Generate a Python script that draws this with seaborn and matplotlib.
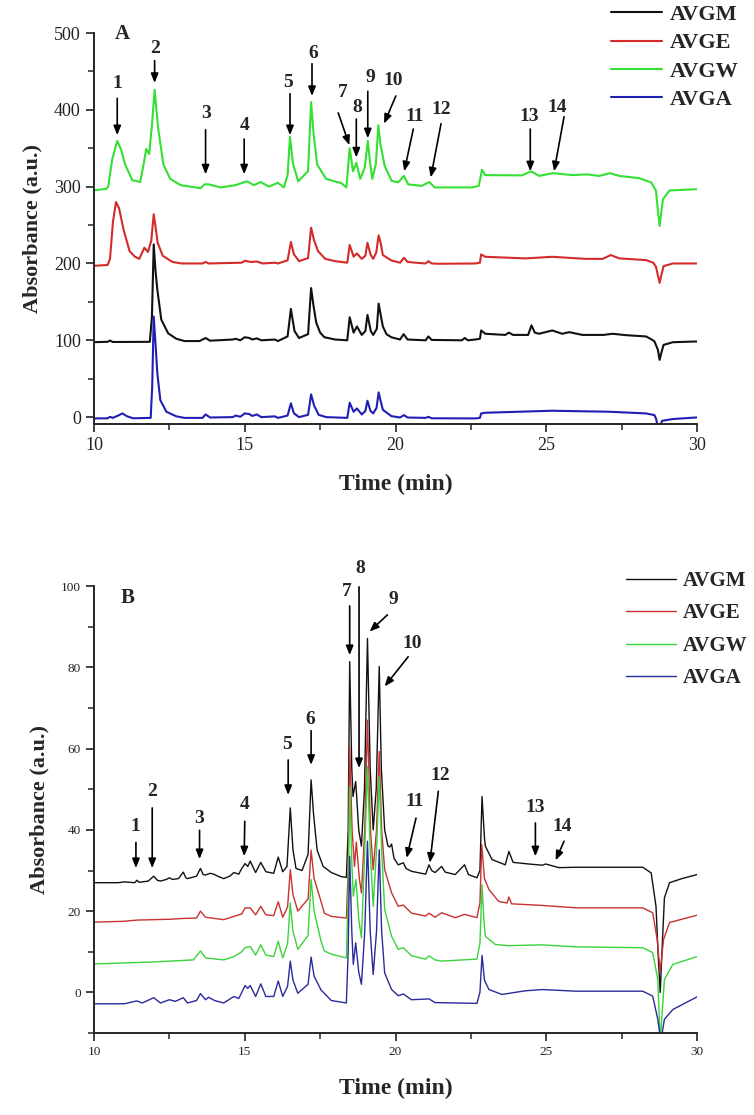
import seaborn as sns
import matplotlib.pyplot as plt
from matplotlib.ticker import MultipleLocator
import pandas as pd

# ---- panel A traces (time in min, absorbance) ----
a_avgm_t = [10.0, 10.45, 10.53, 10.62, 11.85, 11.92, 11.98, 12.04, 12.1, 12.23, 12.46, 12.73, 13.0, 13.5, 13.7, 13.85,
            14.6, 14.7, 14.85, 15.0, 15.15, 15.25, 15.4, 15.55, 16.0, 16.1, 16.42, 16.53, 16.65, 16.8, 17.1, 17.2,
            17.28, 17.37, 17.5, 17.64, 18.0, 18.4, 18.48, 18.61, 18.72, 18.88, 19.0, 19.07, 19.18, 19.26, 19.38, 19.44,
            19.5, 19.58, 19.7, 19.86, 20.15, 20.27, 20.4, 21.0, 21.09, 21.2, 22.2, 22.3, 22.4, 22.64, 22.8, 22.84,
            22.98, 23.64, 23.76, 23.9, 24.4, 24.51, 24.62, 24.76, 25.2, 25.53, 25.76, 26.2, 26.9, 27.2, 27.64, 28.31,
            28.5, 28.59, 28.7, 28.76, 28.82, 28.89, 29.2, 30.0]
a_avgm_v = [97.6, 98, 99.7, 97.8, 98, 130, 224.8, 190, 166, 127, 109, 102, 99, 99, 103, 99.5,
            101, 102, 100, 104, 103, 101, 102.5, 100, 101, 99, 105, 140.8, 112, 103, 108, 168,
            145, 123, 110, 104, 101, 100, 130, 110, 118, 107, 112, 133, 112, 107, 115, 147.7,
            135, 118, 108, 104, 101, 108, 101, 100, 105, 100.5, 100, 103, 100, 101, 102, 112.8,
            108.5, 107, 110, 107, 107, 119.4, 110, 108.5, 112.8, 108.5, 110.6, 107, 107, 108.5, 106.7, 105,
            101, 98.5, 88, 74.5, 84, 94, 97.5, 98.5]

a_avge_t = [10.0, 10.45, 10.53, 10.63, 10.73, 10.83, 10.98, 11.18, 11.35, 11.5, 11.67, 11.79, 11.9, 11.98, 12.05, 12.11,
            12.28, 12.6, 12.9, 13.6, 13.7, 13.8, 14.9, 15.0, 15.2, 15.4, 15.6, 16.0, 16.1, 16.42, 16.53, 16.63,
            16.8, 17.1, 17.2, 17.3, 17.43, 17.67, 18.0, 18.4, 18.48, 18.61, 18.72, 18.88, 19.0, 19.07, 19.17, 19.26,
            19.36, 19.44, 19.5, 19.58, 19.86, 20.15, 20.28, 20.4, 20.67, 21.0, 21.09, 21.2, 21.42, 22.64, 22.8, 22.84,
            22.98, 24.31, 25.2, 26.3, 26.87, 27.14, 27.42, 28.31, 28.55, 28.64, 28.7, 28.76, 28.82, 28.89, 29.2, 30.0]
a_avge_v = [197, 198, 206, 255, 280, 272, 244, 216, 209, 206, 220.5, 215, 230, 264, 245, 227,
            210, 202, 200, 200, 202, 200, 201, 203.5, 202, 202.5, 200, 201, 200, 204, 228, 212,
            203, 207, 246.6, 230, 216, 206, 203, 201, 224, 209, 213, 206, 210, 227, 212, 206,
            214, 236.6, 228, 211, 204, 201, 207.4, 202, 201, 200, 203, 200, 199.6, 200, 201, 211.8,
            208.7, 206.6, 208.7, 206, 206, 211, 206.6, 204.4, 201, 195.7, 185, 174.7, 185, 196.5, 200, 200]

a_avgw_t = [10.0, 10.4, 10.47, 10.6, 10.77, 10.9, 11.03, 11.27, 11.53, 11.65, 11.73, 11.83, 11.92, 12.01, 12.07, 12.13,
            12.3, 12.53, 12.87, 13.53, 13.67, 13.8, 14.2, 14.7, 15.07, 15.3, 15.53, 15.8, 16.1, 16.3, 16.42, 16.5,
            16.6, 16.77, 17.1, 17.2, 17.28, 17.4, 17.7, 18.2, 18.37, 18.48, 18.59, 18.7, 18.83, 18.98, 19.08, 19.16,
            19.23, 19.35, 19.43, 19.5, 19.64, 19.87, 20.09, 20.28, 20.42, 20.87, 21.12, 21.3, 22.53, 22.76, 22.87, 22.98,
            24.2, 24.5, 24.76, 25.23, 25.87, 26.34, 26.76, 27.11, 27.42, 28.09, 28.48, 28.64, 28.7, 28.76, 28.82, 28.87,
            29.09, 30.0]
a_avgw_v = [295.4, 297, 300, 335, 359.5, 348, 329, 308.5, 306, 330, 349, 342.5, 380, 426, 400, 375,
            329, 310, 302, 298, 303, 303, 299, 302, 307, 302, 306, 300, 305, 299, 315, 364.7,
            330, 307, 320, 410, 370, 329, 310, 304.6, 299, 350, 320, 331, 310, 325, 359.5, 330,
            310, 330, 380, 355, 327, 307.6, 305.6, 314, 303, 301, 306, 299, 299, 301, 322, 315,
            314.7, 320, 314, 317.6, 315, 316, 314, 317.6, 314, 311, 305.5, 294.6, 270, 248.8, 268, 283.7,
            295, 296.7]

a_avga_t = [10.0, 10.45, 10.53, 10.62, 10.8, 10.94, 11.1, 11.3, 11.88, 11.93, 11.98, 12.04, 12.1, 12.2, 12.4, 12.73,
            13.0, 13.6, 13.7, 13.85, 14.6, 14.7, 14.85, 15.0, 15.15, 15.25, 15.4, 15.55, 16.0, 16.1, 16.42, 16.53,
            16.63, 16.8, 17.1, 17.2, 17.3, 17.45, 17.7, 18.4, 18.48, 18.61, 18.72, 18.88, 19.0, 19.07, 19.17, 19.26,
            19.37, 19.44, 19.5, 19.58, 19.86, 20.15, 20.28, 20.4, 21.0, 21.09, 21.2, 22.64, 22.8, 22.84, 22.98, 25.2,
            27.1, 28.31, 28.59, 28.65, 28.7, 28.76, 28.84, 29.2, 30.0]
a_avga_v = [-1.7, -1.5, 0.4, -1, 2, 4.8, 1, -1.5, -1, 40, 131, 95, 57, 22, 7, 1,
            -1, -1, 3.5, -0.5, 0, 2, 0.5, 4.8, 4, 1.5, 3.5, 0, 1, -1, 2, 18,
            5, 0, 3, 29.6, 15, 3, 0, -1, 18.7, 7, 11.3, 3.5, 8, 21.3, 8, 4.8,
            12, 32.2, 22, 9.6, 1.3, -0.5, 2.6, -0.5, -1, 0.4, -1.5, -1.7, -1, 4.8, 5.7, 8.3,
            7, 4.8, 2.6, -3, -14, -14, -4.8, -2.5, -0.4]

# ---- panel B traces ----
b_avgm_t = [10.0, 10.8, 11.0, 11.35, 11.42, 11.5, 11.8, 11.98, 12.1, 12.2, 12.4, 12.5, 12.6, 12.8, 12.96, 13.05,
            13.1, 13.4, 13.53, 13.62, 13.7, 13.85, 13.97, 14.1, 14.3, 14.5, 14.64, 14.8, 14.9, 15.01, 15.1, 15.18,
            15.36, 15.53, 15.7, 15.96, 16.11, 16.26, 16.4, 16.51, 16.6, 16.7, 16.9, 17.1, 17.2, 17.28, 17.4, 17.6,
            17.87, 18.2, 18.37, 18.43, 18.48, 18.55, 18.59, 18.68, 18.78, 18.87, 18.97, 19.07, 19.16, 19.26, 19.36, 19.46,
            19.53, 19.64, 19.75, 19.81, 19.87, 19.95, 20.09, 20.26, 20.35, 20.53, 21.0, 21.11, 21.2, 21.31, 21.53, 21.65,
            21.98, 22.29, 22.42, 22.7, 22.8, 22.87, 22.95, 22.98, 23.2, 23.64, 23.76, 23.9, 24.42, 24.87, 24.98, 25.42,
            26.0, 28.2, 28.48, 28.64, 28.72, 28.78, 28.85, 28.92, 29.09, 29.5, 30.0]
b_avgm_v = [27, 27, 27.2, 27, 27.6, 27.1, 27.4, 28.6, 27.6, 27.4, 27.8, 28.2, 27.8, 28, 29.6, 28.2,
            28, 28.6, 30.5, 29, 28.9, 29.3, 29.1, 28.6, 28, 28.6, 29.5, 29.1, 30.5, 31.7, 31, 32.3,
            29.5, 32, 29.7, 29.3, 33.3, 29.7, 31, 45.4, 35, 30.5, 30, 34, 52.3, 44, 35, 31,
            29.5, 28.5, 28.3, 40, 81.4, 55, 48.2, 51.9, 40, 36, 50, 87.1, 55, 40, 50, 80.2,
            55, 40, 36, 35.8, 36.5, 33, 31.4, 31.9, 30.5, 29.8, 29.1, 31.4, 30, 29.5, 31, 29.6,
            29, 31.4, 29, 28.2, 30, 48.2, 38, 36, 32.7, 31.4, 34.7, 32, 31.6, 31.3, 31.6, 30.7,
            30.8, 30.8, 29.4, 21.2, 8, 0, 12, 23.3, 27, 28, 29]

b_avge_t = [10.0, 11.0, 11.42, 11.98, 12.5, 12.96, 13.4, 13.53, 13.7, 14.3, 14.64, 14.9, 15.01, 15.18, 15.36, 15.53,
            15.7, 15.96, 16.11, 16.26, 16.42, 16.51, 16.6, 16.76, 17.1, 17.2, 17.3, 17.53, 17.64, 17.87, 18.37, 18.43,
            18.48, 18.56, 18.64, 18.7, 18.8, 18.87, 18.98, 19.07, 19.17, 19.26, 19.37, 19.46, 19.54, 19.64, 19.87, 20.09,
            20.26, 20.53, 21.0, 21.11, 21.31, 21.53, 21.98, 22.29, 22.7, 22.8, 22.86, 22.95, 23.1, 23.42, 23.7, 23.76,
            23.85, 24.87, 26.0, 28.2, 28.53, 28.68, 28.78, 28.89, 29.09, 30.0]
b_avge_v = [17.3, 17.5, 17.8, 17.9, 18, 18.2, 18.3, 20, 18.5, 17.9, 18.7, 19.3, 20.8, 20.8, 19.1, 21.2,
            19.1, 18.9, 22.3, 18.5, 21, 30.2, 24, 20, 23, 35, 28, 22.4, 19.5, 18.7, 18.3, 30,
            60.5, 40, 31, 37, 28, 24.5, 40, 67, 40, 30.2, 40, 59.3, 40, 30.2, 24.5, 21.2,
            21.5, 19.5, 18.8, 19.5, 18.5, 19.6, 18.4, 19.2, 18.4, 22, 36.4, 28, 25.3, 22.4, 22, 23.5,
            21.8, 21.4, 20.8, 20.8, 19.6, 13, 5, 13, 17.2, 19]

b_avgw_t = [10.0, 11.98, 13.3, 13.53, 13.7, 14.3, 14.64, 14.9, 15.01, 15.18, 15.36, 15.53, 15.7, 15.96, 16.11, 16.26,
            16.42, 16.51, 16.6, 16.76, 17.1, 17.2, 17.3, 17.53, 17.64, 17.87, 18.37, 18.43, 18.48, 18.55, 18.6, 18.69,
            18.78, 18.87, 18.98, 19.07, 19.16, 19.26, 19.37, 19.46, 19.54, 19.64, 19.87, 20.09, 20.26, 20.53, 21.0, 21.11,
            21.31, 21.53, 22.7, 22.8, 22.87, 22.93, 22.98, 23.31, 23.76, 24.87, 26.0, 28.2, 28.53, 28.7, 28.78, 28.92,
            29.2, 30.0]
b_avgw_v = [7, 7.5, 8, 10.2, 8.5, 8, 8.8, 10, 11, 11.3, 9.2, 11.7, 9.2, 8.8, 12.6, 8.5,
            12, 22, 15, 10.6, 14, 27.8, 20, 12.6, 10.2, 9.4, 8.5, 25, 50.7, 32, 23.7, 27.8,
            18, 13.4, 35, 55.6, 35, 21.2, 35, 53.1, 35, 20.4, 13.8, 10.6, 11, 9, 8.2, 9,
            8, 7.7, 8.2, 12, 26.5, 18, 13.8, 11.8, 11.5, 11.7, 11.2, 11, 9.8, 3.2, -12, 3.2,
            6.9, 8.8]

b_avga_t = [10.0, 11.0, 11.42, 11.6, 11.98, 12.2, 12.5, 12.7, 12.96, 13.1, 13.4, 13.53, 13.7, 13.8, 14.0, 14.3,
            14.64, 14.8, 14.9, 15.01, 15.1, 15.18, 15.36, 15.53, 15.7, 15.96, 16.11, 16.26, 16.42, 16.51, 16.6, 16.76,
            17.1, 17.2, 17.3, 17.53, 17.87, 18.37, 18.43, 18.48, 18.55, 18.6, 18.68, 18.78, 18.87, 18.98, 19.07, 19.16,
            19.26, 19.37, 19.46, 19.54, 19.64, 19.87, 20.09, 20.26, 20.53, 21.11, 21.31, 22.7, 22.8, 22.87, 22.95, 23.1,
            23.53, 24.31, 24.87, 26.0, 28.2, 28.53, 28.7, 28.8, 28.92, 29.2, 30.0]
b_avga_v = [-2.8, -2.8, -2.1, -2.6, -1.3, -2.6, -1.8, -2.2, -1.3, -2.6, -2, -0.3, -1.8, -1.2, -2, -2.6,
            -1, -1.5, 0, 1.7, 1, 1.7, -1, 2.1, -1, -1, 2.8, -1, 1.5, 7.7, 3, -0.2,
            2, 8.7, 4, 0.6, -2, -2.6, 10, 33.5, 15, 6.9, 12.2, 5, 2, 15, 37.2, 15,
            4.4, 15, 35.1, 15, 4.8, 0.7, -0.8, -0.4, -1.8, -1.6, -2.5, -2.7, 0, 9.1, 3, 0.7,
            -0.5, 0.4, 0.7, 0.3, 0.3, -0.9, -6.6, -12, -6.6, -4.2, -1.1]

samples = ["AVGM", "AVGE", "AVGW", "AVGA"]
peak_labels = [str(i) for i in range(1, 15)]


def long_form(traces):
    rows = []
    for name, (t, v) in zip(samples, traces):
        rows.append(pd.DataFrame({"time": t, "absorbance": v, "sample": name}))
    return pd.concat(rows, ignore_index=True)


df_a = long_form([(a_avgm_t, a_avgm_v), (a_avge_t, a_avge_v), (a_avgw_t, a_avgw_v), (a_avga_t, a_avga_v)])
df_b = long_form([(b_avgm_t, b_avgm_v), (b_avge_t, b_avge_v), (b_avgw_t, b_avgw_v), (b_avga_t, b_avga_v)])

# label / arrow placement (text xy, arrow tail, arrow tip) in data units
a_text = [(10.77, 434), (12.01, 480), (13.7, 395), (15.01, 380), (16.43, 436), (17.27, 473), (18.26, 422),
          (18.72, 403), (19.17, 442), (19.92, 438), (20.62, 391), (21.53, 401), (24.42, 391), (25.37, 403)]
a_tail = [(10.77, 415), (12.01, 464), (13.7, 374), (14.98, 362), (16.5, 421), (17.23, 460), (18.1, 396),
          (18.7, 388), (19.08, 424), (20.01, 418), (20.59, 375), (21.51, 382), (24.47, 375), (25.59, 391)]
a_tip = [(10.77, 367), (12.01, 435), (13.7, 316), (14.98, 316), (16.5, 367), (17.23, 418), (18.47, 354),
         (18.7, 338), (19.08, 363), (19.62, 382), (20.29, 320), (21.17, 312), (24.47, 320), (25.26, 320)]

b_text = [(11.37, 40.9), (11.92, 49.5), (13.5, 42.9), (15.01, 46.2), (16.39, 61), (17.17, 67.2), (18.39, 98.6),
          (18.83, 104.3), (19.92, 96.6), (20.56, 85.9), (20.62, 47), (21.48, 53.3), (24.64, 45.4), (25.53, 40.9)]
b_tail = [(11.39, 36.9), (11.93, 45.4), (13.5, 39.9), (15.0, 42.1), (16.44, 57.2), (17.2, 64.4), (18.48, 95.1),
          (18.79, 99.8), (19.73, 92.9), (20.42, 82.6), (20.68, 42.9), (21.42, 49.5), (24.64, 41.7), (25.59, 37.2)]
b_tip = [(11.39, 30.6), (11.93, 30.6), (13.5, 32.8), (14.98, 33.5), (16.44, 48.6), (17.2, 56), (18.48, 83),
         (18.79, 55.2), (19.14, 88.8), (19.64, 75.3), (20.37, 33.1), (21.14, 31.9), (24.64, 33.5), (25.31, 32.5)]

sns.set_style("ticks")
plt.rcParams["font.family"] = ["Liberation Serif", "DejaVu Serif"]
plt.rcParams["axes.linewidth"] = 1.4

fig = plt.figure(figsize=(7.54, 11.15), dpi=100)
ax_a = fig.add_axes([0.1247, 0.6197, 0.7997, 0.3507])
ax_b = fig.add_axes([0.1247, 0.0735, 0.7997, 0.4009])

pal_a = {"AVGM": "#111111", "AVGE": "#d42a2a", "AVGW": "#33e033", "AVGA": "#1f1fb4"}
pal_b = {"AVGM": "#111111", "AVGE": "#c83232", "AVGW": "#3cd23c", "AVGA": "#2a2a9a"}

sns.lineplot(data=df_a, x="time", y="absorbance", hue="sample", hue_order=samples, palette=pal_a,
             estimator=None, sort=False, lw=1.5, ax=ax_a)
sns.lineplot(data=df_b, x="time", y="absorbance", hue="sample", hue_order=samples, palette=pal_b,
             estimator=None, sort=False, lw=1.0, ax=ax_b)

arrow = dict(arrowstyle="-|>,head_length=0.55,head_width=0.22", color="black", lw=1.2,
             shrinkA=0, shrinkB=0)

for ax, tx, tl, tp, ylim, ymaj, ymin, tick_fs, lab_fs, letter, letter_xy in [
        (ax_a, a_text, a_tail, a_tip, (-9, 500), 100, 50, 13, 15, "A", (10.93, 499)),
        (ax_b, b_text, b_tail, b_tip, (-10, 100), 20, 10, 9.5, 15, "B", (11.1, 97))]:
    ax.set_xlim(10, 30)
    ax.set_ylim(*ylim)
    ax.xaxis.set_major_locator(MultipleLocator(5))
    ax.xaxis.set_minor_locator(MultipleLocator(2.5))
    ax.yaxis.set_major_locator(MultipleLocator(ymaj))
    ax.yaxis.set_minor_locator(MultipleLocator(ymin))
    ax.tick_params(which="major", direction="out", length=6, width=1.2, labelsize=tick_fs, colors="#222222")
    ax.tick_params(which="minor", direction="out", length=4, width=1.1)
    sns.despine(ax=ax)
    ax.set_xlabel("Time (min)", fontsize=lab_fs + 2, fontweight="bold", labelpad=14)
    ax.set_ylabel("Absorbance (a.u.)", fontsize=lab_fs + 1, fontweight="bold", labelpad=8)
    ax.text(*letter_xy, letter, fontsize=15, fontweight="bold", ha="center", va="center")
    for lab, p, a, b in zip(peak_labels, tx, tl, tp):
        ax.text(p[0], p[1], lab, fontsize=14, fontweight="bold", ha="center", va="center", clip_on=False)
        ax.annotate("", xy=b, xytext=a, arrowprops=arrow, annotation_clip=False)

sns.move_legend(ax_a, "upper left", bbox_to_anchor=(0.81, 0.996), bbox_transform=fig.transFigure,
                frameon=False, title=None, prop={"weight": "bold", "size": 16}, handlelength=2.3,
                handletextpad=0.35, labelspacing=0.35, borderpad=0, borderaxespad=0)
sns.move_legend(ax_b, "upper left", bbox_to_anchor=(0.83, 0.488), bbox_transform=fig.transFigure,
                frameon=False, title=None, prop={"weight": "bold", "size": 15}, handlelength=2.4,
                handletextpad=0.35, labelspacing=0.6, borderpad=0, borderaxespad=0)

fig.savefig("out.png", dpi=100)
